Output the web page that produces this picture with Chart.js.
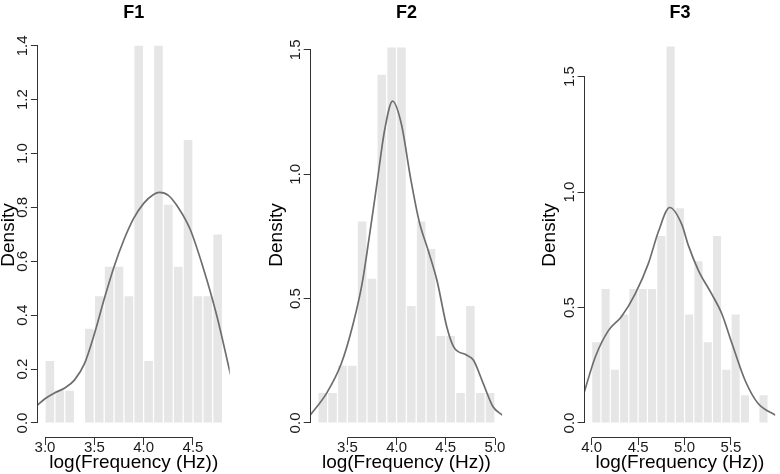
<!DOCTYPE html>
<html><head><meta charset="utf-8">
<script src="https://cdn.jsdelivr.net/npm/chart.js@4"></script>
<style>
html,body{margin:0;padding:0;background:#fff;}
#wrap{position:relative;width:780px;height:474px;overflow:hidden;}
#wrap canvas{position:absolute;top:0;}
</style>
</head><body>
<div id="wrap">
<canvas id="c1" width="260" height="474" style="left:0px"></canvas>
<canvas id="c2" width="260" height="474" style="left:260px"></canvas>
<canvas id="c3" width="260" height="474" style="left:520px"></canvas>
</div>
<script>
// ---------- data ----------
const panelTitles = ['F1', 'F2', 'F3'];
const xAxisTitle = 'log(Frequency (Hz))';
const yAxisTitle = 'Density';

// F1 histogram (bin centres, density)
const f1BinCenters = [3.05,3.15,3.25,3.35,3.45,3.55,3.65,3.75,3.85,3.95,4.05,4.15,4.25,4.35,4.45,4.55,4.65,4.75];
const f1Density    = [0.23,0.12,0.12,0.00,0.35,0.47,0.58,0.58,0.47,1.40,0.23,1.40,0.81,0.58,1.05,0.47,0.47,0.70];
const f1CurveX = [2.92,3.00,3.10,3.20,3.30,3.40,3.50,3.60,3.70,3.80,3.90,4.00,4.10,4.16,4.25,4.35,4.47,4.60,4.74,4.88];
const f1CurveY = [0.065,0.09,0.112,0.13,0.16,0.22,0.33,0.46,0.58,0.68,0.76,0.815,0.848,0.856,0.845,0.80,0.72,0.58,0.40,0.18];
const f1XTicks = [3.0,3.5,4.0,4.5];
const f1XTickLabels = ['3.0','3.5','4.0','4.5'];
const f1YTicks = [0,0.2,0.4,0.6,0.8,1.0,1.2,1.4];
const f1YTickLabels = ['0.0','0.2','0.4','0.6','0.8','1.0','1.2','1.4'];

// F2 histogram
const f2BinCenters = [3.25,3.35,3.45,3.55,3.65,3.75,3.85,3.95,4.05,4.15,4.25,4.35,4.45,4.55,4.65,4.75,4.85,4.95];
const f2Density    = [0.12,0.12,0.23,0.23,0.81,0.58,1.40,1.51,1.51,0.47,0.81,0.70,0.35,0.35,0.12,0.47,0.12,0.12];
const f2CurveX = [3.12,3.29,3.44,3.56,3.65,3.72,3.80,3.88,3.96,4.05,4.14,4.23,4.32,4.41,4.51,4.58,4.71,4.78,4.88,4.98,5.08];
const f2CurveY = [0.03,0.12,0.24,0.40,0.56,0.74,0.96,1.18,1.294,1.20,0.99,0.81,0.695,0.574,0.387,0.306,0.273,0.253,0.159,0.065,0.03];
const f2XTicks = [3.5,4.0,4.5,5.0];
const f2XTickLabels = ['3.5','4.0','4.5','5.0'];
const f2YTicks = [0,0.5,1.0,1.5];
const f2YTickLabels = ['0.0','0.5','1.0','1.5'];

// F3 histogram
const f3BinCenters = [4.05,4.15,4.25,4.35,4.45,4.55,4.65,4.75,4.85,4.95,5.05,5.15,5.25,5.35,5.45,5.55,5.65,5.75,5.85];
const f3Density    = [0.35,0.58,0.23,0.47,0.58,0.58,0.58,0.81,1.63,0.93,0.47,0.70,0.35,0.81,0.23,0.47,0.12,0.00,0.12];
const f3CurveX = [3.91,4.04,4.18,4.32,4.47,4.61,4.72,4.84,4.97,5.04,5.15,5.29,5.40,5.51,5.65,5.79,5.98];
const f3CurveY = [0.12,0.287,0.40,0.46,0.56,0.69,0.83,0.933,0.86,0.77,0.66,0.56,0.474,0.345,0.186,0.085,0.033];
const f3XTicks = [4.0,4.5,5.0,5.5];
const f3XTickLabels = ['4.0','4.5','5.0','5.5'];
const f3YTicks = [0,0.5,1.0,1.5];
const f3YTickLabels = ['0.0','0.5','1.0','1.5'];

// ---------- drawing ----------
const FONT = "'Liberation Sans', Arial, Helvetica, sans-serif";
const pts = (xs, ys) => xs.map((x, i) => ({x: x, y: ys[i]}));

const rAxes = {
  id: 'rAxes',
  afterDraw(chart) {
    const {ctx, chartArea} = chart;
    const xs = chart.scales.x, ys = chart.scales.y;
    ctx.save();
    ctx.strokeStyle = '#333';
    ctx.lineWidth = 1;
    ctx.beginPath();
    const yy = Math.round(chartArea.bottom) - 0.5;
    ctx.moveTo(xs.getPixelForValue(xs.ticks[0].value), yy);
    ctx.lineTo(xs.getPixelForValue(xs.ticks[xs.ticks.length - 1].value), yy);
    const xx = Math.round(chartArea.left) - 0.5;
    ctx.moveTo(xx, ys.getPixelForValue(ys.ticks[0].value));
    ctx.lineTo(xx, ys.getPixelForValue(ys.ticks[ys.ticks.length - 1].value));
    ctx.stroke();
    ctx.restore();
  }
};

function makePanel(id, c) {
  return new Chart(document.getElementById(id), {
    type: 'bar',
    data: {
      datasets: [
        { type: 'line', data: pts(c.cx, c.cy), borderColor: '#6e6e6e', borderWidth: 1.7,
          pointRadius: 0, cubicInterpolationMode: 'monotone', fill: false, order: 1 },
        { type: 'bar', data: pts(c.bx, c.by), backgroundColor: '#e6e6e6', borderWidth: 0,
          barPercentage: 0.87, categoryPercentage: 1, order: 2 }
      ]
    },
    options: {
      responsive: false, animation: false, devicePixelRatio: 1,
      layout: { padding: { left: 0, right: c.padRight, top: 0, bottom: 0 } },
      plugins: {
        legend: { display: false }, tooltip: { enabled: false },
        title: { display: true, text: c.title, fullSize: false, color: '#000',
          font: { family: FONT, size: 18, weight: 'bold', lineHeight: 1.2 },
          padding: { top: 2, bottom: 8.4 } }
      },
      scales: {
        x: {
          type: 'linear', min: c.xmin, max: c.xmax, offset: false,
          grid: { offset: false, drawOnChartArea: false, drawTicks: true, tickLength: 7, color: '#333' },
          border: { display: false },
          afterBuildTicks: s => { s.ticks = c.xt.map(v => ({value: v})); },
          afterFit: s => { s.height = 36; },
          ticks: { autoSkip: false, minRotation: 0, maxRotation: 0, padding: -6, color: '#1a1a1a',
            font: { family: FONT, size: 15 }, callback: (v, i) => c.xl[i] },
          title: { display: true, text: xAxisTitle, color: '#000',
            font: { family: FONT, size: 19, lineHeight: 1 }, padding: { top: 0, bottom: 2 } }
        },
        y: {
          type: 'linear', min: c.ymin, max: c.ymax,
          grid: { drawOnChartArea: false, drawTicks: true, tickLength: 7, color: '#333' },
          border: { display: false },
          afterBuildTicks: s => { s.ticks = c.yt.map(v => ({value: v})); },
          afterFit: s => { s.width = c.yWidth; },
          ticks: { autoSkip: false, minRotation: 90, maxRotation: 90, crossAlign: 'center', padding: -2.6,
            color: '#1a1a1a', font: { family: FONT, size: 15 }, callback: (v, i) => c.yl[i] },
          title: { display: true, text: yAxisTitle, color: '#000',
            font: { family: FONT, size: 19, lineHeight: 1.2 }, padding: { top: c.yTitlePad, bottom: 0 } }
        }
      }
    },
    plugins: [rAxes]
  });
}

makePanel('c1', { title: panelTitles[0], bx: f1BinCenters, by: f1Density, cx: f1CurveX, cy: f1CurveY,
  xt: f1XTicks, xl: f1XTickLabels, yt: f1YTicks, yl: f1YTickLabels,
  xmin: 2.928, xmax: 4.872, ymin: -0.0558, ymax: 1.4512, yWidth: 37.9, padRight: 30.3, yTitlePad: -2.9 });
makePanel('c2', { title: panelTitles[1], bx: f2BinCenters, by: f2Density, cx: f2CurveX, cy: f2CurveY,
  xt: f2XTicks, xl: f2XTickLabels, yt: f2YTicks, yl: f2YTickLabels,
  xmin: 3.128, xmax: 5.072, ymin: -0.0605, ymax: 1.5721, yWidth: 50.7, padRight: 17.9, yTitlePad: 5.1 });
makePanel('c3', { title: panelTitles[2], bx: f3BinCenters, by: f3Density, cx: f3CurveX, cy: f3CurveY,
  xt: f3XTicks, xl: f3XTickLabels, yt: f3YTicks, yl: f3YTickLabels,
  xmin: 3.924, xmax: 5.976, ymin: -0.0651, ymax: 1.6930, yWidth: 64.6, padRight: 4.8, yTitlePad: 18.1 });
</script>
</body></html>
